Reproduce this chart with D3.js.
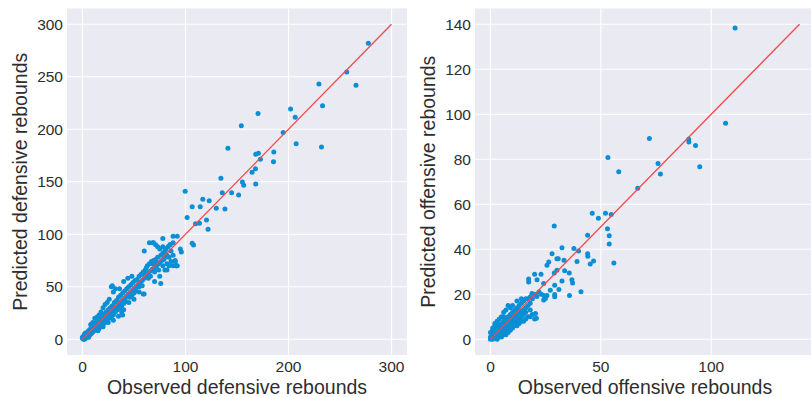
<!DOCTYPE html>
<html>
<head>
<meta charset="utf-8">
<script src="https://cdn.jsdelivr.net/npm/d3@7"></script>
<style>
  body { margin: 0; background: #fff; }
  svg { display: block; font-family: "Liberation Sans", Arial, sans-serif; }
</style>
</head>
<body>
<svg id="chart" width="811" height="397"></svg>
<script>
// [observed, predicted] defensive rebounds
const defensive = [
  [0,1],[1,2],[1,0],[2,3],[2,1],[3,4],[3,2],[4,6],[4,3],[5,5],[5,7],[5,3],[6,4],[6,8],[7,6],[7,9],[8,5],[8,10],[9,8],[9,6],
  [10,12],[10,7],[1,3],[2,5],[3,1],[4,4],[5,2],[6,6],[7,4],[8,8],[9,11],[10,9],[0,2],[2,0],[3,6],[6,2],[11,14],[11,8],[12,10],[12,15],
  [13,12],[13,9],[14,17],[14,11],[15,13],[15,19],[16,14],[16,10],[17,20],[17,15],[18,16],[18,12],[19,22],[19,17],[20,18],[20,14],
  [21,24],[21,19],[22,20],[22,16],[23,26],[23,21],[24,22],[24,18],[25,28],[25,23],[26,24],[26,20],[27,30],[27,25],[28,26],[28,22],
  [29,32],[29,27],[30,28],[30,23],[12,20],[14,21],[16,23],[18,26],[20,30],[22,33],[24,35],[26,38],[8,14],[10,16],[15,8],[20,12],
  [25,16],[30,18],
  [31,35],[31,29],[32,30],[32,26],[33,37],[33,31],[34,36],[34,28],[35,40],[35,33],[36,34],[36,30],[37,42],[37,35],[38,36],[38,32],
  [39,44],[39,37],[40,38],[40,34],[41,46],[41,39],[42,40],[42,36],[43,48],[43,41],[44,42],[45,50],[45,43],[46,44],[46,40],[47,52],
  [47,45],[48,46],[48,42],[49,54],[50,48],[50,44],[51,56],[52,50],[52,46],[53,57],[54,52],[55,60],[55,50],[56,54],[57,62],[58,56],
  [58,51],[59,64],[60,58],[28,50],[29,51],[30,45],[32,48],[36,48],[40,55],[44,58],[48,60],[35,22],[38,26],[40,28],[45,35],[50,38],
  [55,45],[59,43],
  [61,66],[61,60],[62,68],[62,62],[63,70],[64,63],[64,58],[65,72],[66,65],[66,60],[67,74],[68,67],[68,72],[69,75],[70,68],[70,64],
  [71,76],[72,70],[72,73],[73,78],[74,72],[74,66],[75,73],[76,80],[77,75],[78,82],[78,70],[79,76],[80,84],[80,78],[81,86],[82,80],
  [83,88],[84,78],[85,90],[86,84],[88,92],[88,80],[60,84],[65,92],[68,92],[71,90],[73,88],[75,86],[76,53],[80,66],[82,72],[84,70],
  [86,74],[90,75],[91,70],[92,70],[75,60],[70,55],[59.8,43],[39,23],
  [69,92],[78,96],[88,98],[92,98],[95,86],[96,83],[85,90],[78,88],[90,74],[88,70],[91,70],[82,66],
  [101.6,116],[109.7,110],[113.6,110.5],[120.4,113.6],[121.9,104.8],[106.5,91.4],[107.8,89.8],[99.7,141],[116.8,133.3],
  [106.5,126.3],[123,132],[114.3,126.3],[129.9,124.8],[138.3,124.1],
  [134.4,153.3],[135.7,139.6],[144.8,139.6],[151.6,137.4],[155.2,149.8],[156.5,146.7],[168.2,147.9],[164.6,159],[167.9,162.5],
  [168.2,176.2],[170.8,177.1],[172.7,171.4],[185.7,178.4],[185.4,169.1],[141.2,181.9],[154.2,203.4],[170.4,214.9],
  [194.8,196.8],[202,219.3],[206.5,211.4],[207.4,186.3],[232,183],[233,222.5],[229.5,243.1],[256.5,254.6],[265.5,241.9],
  [277.5,281.9]
];

// [observed, predicted] offensive rebounds
const offensive = [
  [0,1],[0,0],[1,2],[1,0],[1,3],[2,1],[2,4],[2,2],[3,1],[3,5],[3,3],[3,0],[4,2],[4,6],[4,4],[4,1],[5,3],[5,7],[5,5],[5,2],
  [6,4],[6,8],[6,6],[6,2],[7,5],[7,9],[7,7],[7,3],[8,6],[8,10],[8,8],[8,4],[9,7],[9,11],[9,9],[9,5],[10,8],[10,12],[10,10],[10,6],
  [11,9],[11,13],[11,11],[11,7],[12,10],[12,14],[12,12],[12,8],[13,11],[13,15],[13,13],[13,9],[14,12],[14,16],[14,10],[15,13],
  [15,17],[15,11],[16,14],[16,18],[16,12],[17,15],[17,18],[17,10],[18,16],[18,13],[2,6],[3,7],[4,9],[5,10],[6,12],[7,13],[8,15],
  [9,14],[0.5,0.5],[1.5,1],[2.5,2],[3.5,2.5],[4.5,3],[5.5,4],[6.5,5],[7.5,4.5],[8.5,7],[9.5,8],[10.5,7],[11.5,10],[12.5,9],
  [13.5,11],[14.5,12],[1,4],[1,5],[2,7],[0,3],[3,8],[6,10],[10,15],[12,17],[14,18],[15,8],[16,9],[18,10],[19,11],[20,9],[19,18],
  [20,20],[21,19],[22,21],[1,1],[2,3],[3,2],[4,3],[5,4],[6,5],[7,6],[8,7],[9,6],[10,9],[11,10],[12,11],[13,12],[5,1],[6,3],[7,2],
  [8,3],[9,4],[10,5],[11,6],[12,6],[13,7],[14,8],
  [20,28.9],[17.3,26.8],[17.3,25.5],[21.1,26.5],[22.9,28.9],[24.1,24.8],[23,20],[24.1,19.5],[24.9,18.1],[25.6,19.5],[24.1,17.4],
  [18.8,20.3],[18.1,18.9],[20.4,11.5],[20.8,9.3],[27.1,21.8],[29.1,24],[31,22.1],[35.8,19.5],[41,21.1],[29.1,18.9],[29.1,19.9],
  [28.9,29.5],[30.1,30.7],[33.6,30.4],[35.7,29.5],[32.4,25.9],[36.9,26.5],[37.2,25],[27.9,38],[26.4,34.3],[25.6,32.9],[30.1,35.8],
  [30.7,35.8],[33.3,35.1],[39.2,34.6],[32.4,40.7],[37.8,40.3],[39.9,39.2],[28.9,50.3],[44,46.2],[44,38],[44.1,36.9],[46.7,34.8],
  [45.2,33.5],[46.1,56],[48.9,53.8],[52.1,56],[54.7,55.4],[53,49.1],[53.8,46],[53.8,42.3],[55.9,33.9],
  [53.2,80.8],[58.1,74.5],[66.7,67.1],[72,89.2],[75.9,78.1],[77,73.4],[89.8,88.9],[89.9,87.7],[92.9,86.1],[94.8,76.7],
  [106.5,96],[110.8,138.3]
];

const panels = [
  { data: defensive, lineMax: 300, xTicks: [0, 100, 200, 300], yTicks: [0, 50, 100, 150, 200, 250, 300],
    xLabel: "Observed defensive rebounds", yLabel: "Predicted defensive rebounds", left: 67, right: 407, yLabelX: 27 },
  { data: offensive, lineMax: 140, xTicks: [0, 50, 100], yTicks: [0, 20, 40, 60, 80, 100, 120, 140],
    xLabel: "Observed offensive rebounds", yLabel: "Predicted offensive rebounds", left: 475, right: 815, yLabelX: 435 }
];

const svg = d3.select('#chart');
const plotTop = 8.5, plotBottom = 355;

panels.forEach((p, i) => {
  const pad = p.lineMax * 0.05;
  const x = d3.scaleLinear().domain([-pad, p.lineMax + pad]).range([p.left, p.right]);
  const y = d3.scaleLinear().domain([-pad, p.lineMax + pad]).range([plotBottom, plotTop]);

  const clipId = 'clip' + i;
  svg.append('clipPath').attr('id', clipId)
    .append('rect').attr('x', p.left).attr('y', plotTop)
    .attr('width', p.right - p.left).attr('height', plotBottom - plotTop);

  const g = svg.append('g');
  g.append('rect')
    .attr('x', p.left).attr('y', plotTop)
    .attr('width', p.right - p.left).attr('height', plotBottom - plotTop)
    .attr('fill', '#eaeaf2');

  // grid
  g.selectAll('.vg').data(p.xTicks).enter().append('line')
    .attr('x1', d => x(d)).attr('x2', d => x(d))
    .attr('y1', plotTop).attr('y2', plotBottom)
    .attr('stroke', '#fff').attr('stroke-width', 1.1);
  g.selectAll('.hg').data(p.yTicks).enter().append('line')
    .attr('x1', p.left).attr('x2', p.right)
    .attr('y1', d => y(d)).attr('y2', d => y(d))
    .attr('stroke', '#fff').attr('stroke-width', 1.1);

  // tick labels
  g.selectAll('.xt').data(p.xTicks).enter().append('text')
    .attr('x', d => x(d)).attr('y', 372)
    .attr('text-anchor', 'middle')
    .attr('font-size', 15.5).attr('fill', '#2e2e2e')
    .text(d => d);
  g.selectAll('.yt').data(p.yTicks).enter().append('text')
    .attr('x', p.left - 4).attr('y', d => y(d))
    .attr('dy', '0.35em')
    .attr('text-anchor', 'end')
    .attr('font-size', 15.5).attr('fill', '#2e2e2e')
    .text(d => d);

  // axis labels
  g.append('text')
    .attr('x', (p.left + p.right) / 2).attr('y', 394)
    .attr('text-anchor', 'middle')
    .attr('font-size', 19.5).attr('fill', '#2e2e2e')
    .text(p.xLabel);
  g.append('text')
    .attr('transform', `translate(${p.yLabelX},${(plotTop + plotBottom) / 2}) rotate(-90)`)
    .attr('text-anchor', 'middle')
    .attr('font-size', 19.5).attr('fill', '#2e2e2e')
    .text(p.yLabel);

  const content = g.append('g').attr('clip-path', `url(#${clipId})`);

  // points
  content.selectAll('circle')
    .data(p.data)
    .enter()
    .append('circle')
    .attr('cx', d => x(d[0]))
    .attr('cy', d => y(d[1]))
    .attr('r', 2.5)
    .attr('fill', '#0a8fd6');

  // identity line
  content.append('line')
    .attr('x1', x(0)).attr('y1', y(0))
    .attr('x2', x(p.lineMax)).attr('y2', y(p.lineMax))
    .attr('stroke', '#f24a4a').attr('stroke-width', 1.3);
});
</script>
</body>
</html>
